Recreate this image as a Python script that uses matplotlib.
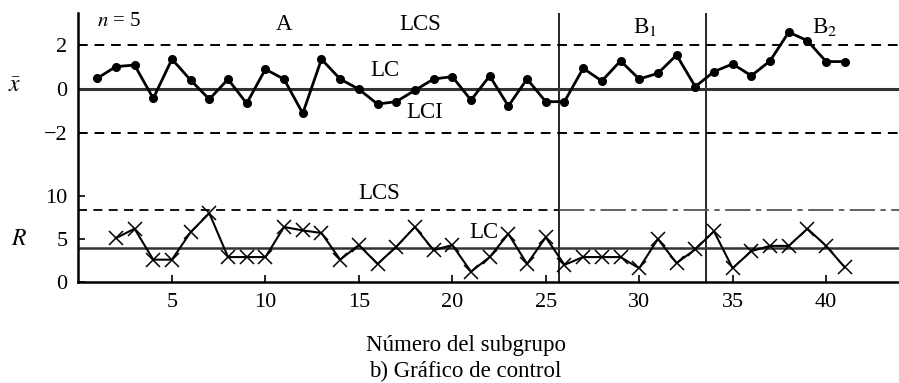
import numpy as np
import matplotlib
matplotlib.use('Agg')
import matplotlib.pyplot as plt
from matplotlib.lines import Line2D

plt.rcParams['font.family'] = ['Liberation Serif', 'DejaVu Serif']
plt.rcParams['mathtext.fontset'] = 'stix'

# Medias de los subgrupos (grafico x-barra), subgrupos 1..41
sub_x = np.arange(1, 42)
xbar = [0.49, 1.03, 1.10, -0.43, 1.37, 0.41, -0.47, 0.45, -0.66, 0.91,
        0.45, -1.12, 1.37, 0.46, -0.01, -0.69, -0.58, -0.06, 0.46, 0.57,
        -0.51, 0.60, -0.78, 0.46, -0.58, -0.58, 0.95, 0.37, 1.29, 0.46,
        0.72, 1.56, 0.11, 0.80, 1.15, 0.61, 1.29, 2.61, 2.22, 1.26, 1.26]

# Rangos de los subgrupos (grafico R), subgrupos 2..41
sub_r = np.arange(2, 42)
rango = [5.1, 6.2, 2.6, 2.6, 5.8, 8.0, 2.9, 2.9, 2.9, 6.4,
         6.0, 5.7, 2.6, 4.3, 2.1, 4.1, 6.4, 3.7, 4.3, 1.2,
         2.9, 5.6, 2.1, 5.2, 2.0, 2.9, 2.9, 2.9, 1.6, 5.0,
         2.2, 3.8, 5.9, 1.6, 3.6, 4.2, 4.2, 6.2, 4.2, 1.7]

# limites de control
lcs_x, lc_x, lci_x = 2.0, 0.0, -2.0
lcs_r, lc_r = 8.4, 4.0
cortes = [25.7, 33.6]   # cambios de fase A -> B1 -> B2

fig = plt.figure(figsize=(8.99, 3.83), dpi=100)
left, bot, top = 0.0873, 0.2637, 0.966
ax1 = fig.add_axes([left, 0.5822, 1 - left, top - 0.5822])
ax2 = fig.add_axes([left, bot, 1 - left, 0.5822 - bot])

xmax = 43.9
for ax in (ax1, ax2):
    ax.set_xlim(0, xmax)
    for s in ('top', 'right', 'left'):
        ax.spines[s].set_visible(False)
    ax.tick_params(direction='in', length=5, width=1.2, labelsize=16, pad=8)
    for c in cortes:
        ax.axvline(c, color='black', lw=1.2)
ax1.spines['bottom'].set_visible(False)
ax1.set_xticks([])

# eje vertical comun a los dos graficos
fig.add_artist(Line2D([left, left], [bot, top], transform=fig.transFigure,
                      color='black', lw=1.8))

# --- grafico x-barra ---
ax1.set_ylim(-3.26, 3.49)
ax1.set_yticks([2, 0, -2])
ax1.set_yticklabels(['2', '0', '\u22122'])
ax1.axhline(lcs_x, color='black', lw=1.4, ls=(0, (5, 3.5)))
ax1.axhline(lci_x, color='black', lw=1.4, ls=(0, (5, 3.5)))
ax1.axhline(lc_x, color='#333333', lw=2.2)
ax1.plot(sub_x, xbar, color='black', lw=2.0, marker='o', ms=5.5)

ax1.text(1.0, 3.08, '$n$ = 5', fontsize=15, va='center', ha='left')
ax1.text(11.0, 2.94, 'A', fontsize=16.5, ha='center', va='center')
ax1.text(18.3, 2.94, 'LCS', fontsize=16.5, ha='center', va='center')
ax1.text(16.4, 0.87, 'LC', fontsize=16.5, ha='center', va='center')
ax1.text(18.5, -1.06, 'LCI', fontsize=16.5, ha='center', va='center')
ax1.text(30.3, 2.85, 'B$_1$', fontsize=16.5, ha='center', va='center')
ax1.text(39.9, 2.85, 'B$_2$', fontsize=16.5, ha='center', va='center')
ax1.text(-3.4, 0.1, r'$\bar{x}$', fontsize=17, ha='center', va='center')

# --- grafico R ---
ax2.set_ylim(0, 14.19)
ax2.set_yticks([10, 5, 0])
ax2.spines['bottom'].set_linewidth(1.8)
ax2.set_xticks([5, 10, 15, 20, 25, 30, 35, 40])
ax2.hlines(lcs_r, 0, cortes[0], color='black', lw=1.3, ls=(0, (5, 3.5)))
ax2.hlines(lcs_r, cortes[0], xmax, color='#555555', lw=1.3, ls=(0, (14, 3, 3, 3)))
ax2.axhline(lc_r, color='#333333', lw=1.8)
ax2.plot(sub_r, rango, color='black', lw=1.5, marker='x', ms=10, mew=1.1)

ax2.text(16.1, 10.35, 'LCS', fontsize=16.5, ha='center', va='center')
ax2.text(21.7, 5.8, 'LC', fontsize=16.5, ha='center', va='center')
ax2.text(-3.2, 5.0, '$R$', fontsize=17, ha='center', va='center')

fig.text(0.518, 0.099, 'Número del subgrupo', fontsize=16.5, ha='center', va='center')
fig.text(0.518, 0.029, 'b) Gráfico de control', fontsize=16.5, ha='center', va='center')

fig.savefig('out.png', dpi=100)
